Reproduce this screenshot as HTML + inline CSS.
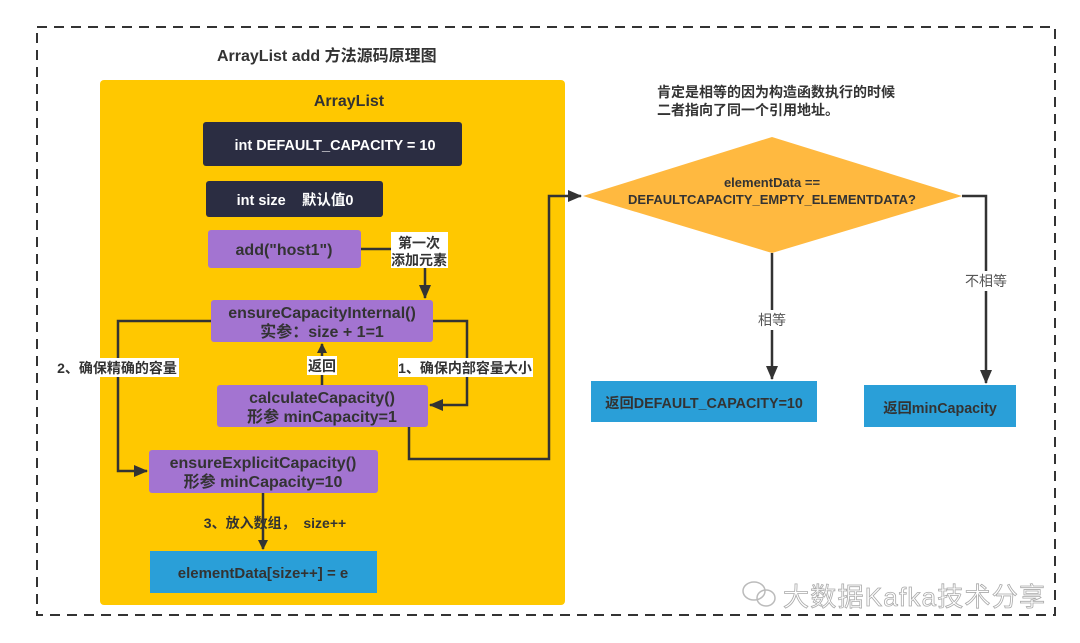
<!DOCTYPE html>
<html><head><meta charset="utf-8"><style>
html,body{margin:0;padding:0;background:#fff;}
svg{display:block}
text{font-family:"Liberation Sans","Noto Sans CJK SC",sans-serif;font-weight:bold;}
</style></head><body>
<svg width="1080" height="643" viewBox="0 0 1080 643" xmlns="http://www.w3.org/2000/svg">
<defs>
<marker id="a" markerWidth="10" markerHeight="10" refX="9" refY="5" orient="auto" markerUnits="userSpaceOnUse">
<path d="M0,0 L10,5 L0,10 z" fill="#333"/></marker>
<marker id="b" markerWidth="14" markerHeight="12" refX="13" refY="6" orient="auto" markerUnits="userSpaceOnUse">
<path d="M0,0 L14,6 L0,12 z" fill="#333"/></marker>
</defs>
<rect x="37" y="27" width="1018" height="588" fill="none" stroke="#333" stroke-width="2" stroke-dasharray="10,7"/>
<text x="217" y="61" font-size="16" fill="#333">ArrayList add 方法源码原理图</text>
<rect x="100" y="80" width="465" height="525" rx="4" fill="#FFC800"/>
<text x="349" y="106" font-size="16" fill="#333" text-anchor="middle">ArrayList</text>
<rect x="203" y="122" width="259" height="44" rx="3" fill="#2B2D42"/>
<text x="335" y="150" font-size="14.5" fill="#fff" text-anchor="middle">int DEFAULT_CAPACITY = 10</text>
<rect x="206" y="181" width="177" height="36" rx="3" fill="#2B2D42"/>
<text x="295" y="205" font-size="14.5" fill="#fff" text-anchor="middle" xml:space="preserve">int size    默认值0</text>
<g fill="#A374D1">
<rect x="208" y="230" width="153" height="38" rx="3"/>
<rect x="211" y="300" width="222" height="42" rx="3"/>
<rect x="217" y="385" width="211" height="42" rx="3"/>
<rect x="149" y="450" width="229" height="43" rx="3"/>
</g>
<g fill="#333" font-size="16" text-anchor="middle">
<text x="284" y="255">add("host1")</text>
<text x="322" y="318">ensureCapacityInternal()</text>
<text x="322" y="337">实参：size + 1=1</text>
<text x="322" y="403">calculateCapacity()</text>
<text x="322" y="422">形参 minCapacity=1</text>
<text x="263" y="468">ensureExplicitCapacity()</text>
<text x="263" y="487">形参 minCapacity=10</text>
</g>
<rect x="150" y="551" width="227" height="42" fill="#2A9FD8"/>
<text x="263" y="578" font-size="15" fill="#333" text-anchor="middle">elementData[size++] = e</text>
<g stroke="#333" stroke-width="2.5" fill="none">
<path d="M361,249 H425 V298" marker-end="url(#b)"/>
<path d="M211,321 H118 V471 H147" marker-end="url(#b)"/>
<path d="M433,321 H467 V405 H430" marker-end="url(#b)"/>
<path d="M322,385 V344" marker-end="url(#a)"/>
<path d="M263,493 V549" marker-end="url(#a)"/>
<path d="M409,427 V459 H549 V196 H581" marker-end="url(#b)"/>
<path d="M772,253 V379" marker-end="url(#b)"/>
<path d="M962,196 H986 V383" marker-end="url(#b)"/>
</g>
<rect x="391" y="232" width="57" height="36" fill="#fff"/>
<text x="419" y="248" font-size="14" fill="#333" text-anchor="middle">第一次</text>
<text x="419" y="265" font-size="14" fill="#333" text-anchor="middle">添加元素</text>
<rect x="55" y="358" width="124" height="19" fill="#fff"/>
<text x="117" y="373" font-size="14" fill="#333" text-anchor="middle">2、确保精确的容量</text>
<rect x="398" y="358" width="135" height="19" fill="#fff"/>
<text x="465" y="373" font-size="14" fill="#333" text-anchor="middle">1、确保内部容量大小</text>
<rect x="307" y="356" width="30" height="19" fill="#fff"/>
<text x="322" y="371" font-size="14" fill="#333" text-anchor="middle">返回</text>
<text x="275" y="528" font-size="14" fill="#333" text-anchor="middle" xml:space="preserve">3、放入数组，  size++</text>
<text x="657" y="97" font-size="14" fill="#333">肯定是相等的因为构造函数执行的时候</text>
<text x="657" y="115" font-size="14" fill="#333">二者指向了同一个引用地址。</text>
<polygon points="583,196 772,137 962,196 772,253" fill="#FFB940"/>
<text x="772" y="187" font-size="13" fill="#333" text-anchor="middle">elementData ==</text>
<text x="772" y="204" font-size="13" fill="#333" text-anchor="middle">DEFAULTCAPACITY_EMPTY_ELEMENTDATA?</text>
<rect x="756" y="310" width="32" height="20" fill="#fff"/>
<text x="772" y="325" font-size="14" fill="#555" text-anchor="middle" style="font-weight:normal">相等</text>
<rect x="963" y="271" width="46" height="20" fill="#fff"/>
<text x="986" y="286" font-size="14" fill="#555" text-anchor="middle" style="font-weight:normal">不相等</text>
<rect x="591" y="381" width="226" height="41" fill="#2A9FD8"/>
<text x="704" y="408" font-size="14.3" fill="#333" text-anchor="middle">返回DEFAULT_CAPACITY=10</text>
<rect x="864" y="385" width="152" height="42" fill="#2A9FD8"/>
<text x="940" y="413" font-size="14.3" fill="#333" text-anchor="middle">返回minCapacity</text>
<g fill="none" stroke="#bbb" stroke-width="1.5">
<ellipse cx="754" cy="591" rx="11" ry="9"/>
<ellipse cx="766" cy="598" rx="9" ry="8"/>
</g>
<text x="783" y="606" font-size="26" fill="#fff" stroke="#aaa" stroke-width="0.8" style="font-weight:normal" textLength="262">大数据Kafka技术分享</text>
</svg>
</body></html>
